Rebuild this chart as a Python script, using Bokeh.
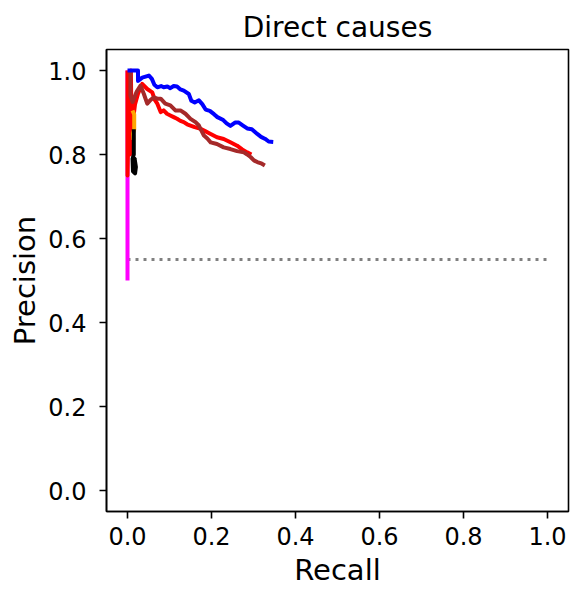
from bokeh.plotting import figure
from bokeh.models import FixedTicker, NumeralTickFormatter, Range1d
from bokeh.embed import file_html
from bokeh.resources import INLINE

# ---- data ----
tick_values = [0.0, 0.2, 0.4, 0.6, 0.8, 1.0]

baseline_recall = [0.0, 1.0]
baseline_precision = [0.55, 0.55]

magenta_recall = [0.0, 0.0]
magenta_precision = [0.50, 1.00]

red_recall = [0.000, 0.000, 0.004, 0.006, 0.008, 0.010, 0.012, 0.013, 0.018, 0.025,
              0.035, 0.047, 0.059, 0.065, 0.071, 0.079, 0.086, 0.094, 0.102, 0.110,
              0.118, 0.126, 0.134, 0.142, 0.150, 0.160, 0.174, 0.186, 0.198, 0.213,
              0.229, 0.245, 0.261, 0.273, 0.285, 0.295]
red_precision = [1.000, 0.750, 0.960, 0.800, 1.000, 0.850, 0.920, 0.880, 0.920, 0.945,
                 0.968, 0.956, 0.948, 0.930, 0.921, 0.901, 0.905, 0.897, 0.893, 0.889,
                 0.885, 0.880, 0.877, 0.872, 0.869, 0.865, 0.861, 0.855, 0.849, 0.841,
                 0.837, 0.829, 0.821, 0.812, 0.805, 0.800]

brown_recall = [0.007, 0.007, 0.012, 0.022, 0.031, 0.039, 0.047, 0.055, 0.063, 0.071,
                0.079, 0.090, 0.102, 0.114, 0.126, 0.138, 0.150, 0.162, 0.170, 0.182,
                0.190, 0.198, 0.213, 0.229, 0.245, 0.261, 0.277, 0.285, 0.293, 0.301,
                0.309, 0.320, 0.327]
brown_precision = [1.000, 0.940, 0.925, 0.950, 0.964, 0.944, 0.921, 0.930, 0.936, 0.933,
                   0.933, 0.921, 0.917, 0.905, 0.905, 0.897, 0.885, 0.877, 0.869, 0.845,
                   0.838, 0.829, 0.825, 0.817, 0.813, 0.808, 0.805, 0.800, 0.794, 0.786,
                   0.782, 0.778, 0.774]

orange_recall = [0.012, 0.016, 0.016, 0.013, 0.014]
orange_precision = [0.905, 0.895, 0.860, 0.850, 0.835]

black_recall = [0.015, 0.015, 0.012, 0.013, 0.018, 0.020, 0.017, 0.019]
black_precision = [0.860, 0.800, 0.790, 0.760, 0.755, 0.770, 0.790, 0.775]

blue_recall = [0.000, 0.025, 0.025, 0.035, 0.051, 0.058, 0.064, 0.071, 0.080, 0.086,
               0.095, 0.102, 0.110, 0.118, 0.126, 0.134, 0.146, 0.152, 0.160, 0.170,
               0.178, 0.186, 0.196, 0.206, 0.214, 0.228, 0.236, 0.245, 0.256, 0.265,
               0.275, 0.285, 0.296, 0.309, 0.318, 0.328, 0.336, 0.347]
blue_precision = [1.000, 1.000, 0.975, 0.983, 0.988, 0.980, 0.966, 0.960, 0.963, 0.960,
                  0.962, 0.958, 0.963, 0.962, 0.955, 0.952, 0.944, 0.928, 0.924, 0.929,
                  0.920, 0.907, 0.904, 0.896, 0.889, 0.882, 0.874, 0.868, 0.876, 0.876,
                  0.869, 0.862, 0.860, 0.849, 0.842, 0.837, 0.831, 0.830]

FONT = "DejaVu Sans"

p = figure(
    frame_width=462, frame_height=462,
    min_border_left=106, min_border_right=16, min_border_top=49, min_border_bottom=88,
    x_range=Range1d(-0.05, 1.05), y_range=Range1d(-0.05, 1.05),
    output_backend="svg", toolbar_location=None,
    title="Direct causes",
)
p.background_fill_color = "white"
p.border_fill_color = "white"
p.xgrid.visible = False
p.ygrid.visible = False
p.outline_line_color = "black"
p.outline_line_width = 1.6
p.outline_line_alpha = 1.0

p.title.align = "center"
p.title.text_font = FONT
p.title.text_font_size = "28px"
p.title.text_font_style = "normal"
p.title.text_color = "black"
p.title.standoff = 11

for ax, lab in ((p.xaxis[0], "Recall"), (p.yaxis[0], "Precision")):
    ax.ticker = FixedTicker(ticks=tick_values)
    ax.formatter = NumeralTickFormatter(format="0.0")
    ax.axis_label = lab
    ax.axis_label_text_font = FONT
    ax.axis_label_text_font_size = "29px"
    ax.axis_label_text_font_style = "normal"
    ax.axis_label_text_color = "black"
    ax.major_label_text_font = FONT
    ax.major_label_text_font_size = "24px"
    ax.major_label_text_color = "black"
    ax.minor_tick_line_color = None
    ax.major_tick_in = 0
    ax.major_tick_out = 7
    ax.major_tick_line_width = 1.6
    ax.major_tick_line_color = "black"
    ax.axis_line_width = 1.6
    ax.axis_line_color = "black"

p.xaxis.major_label_standoff = 8
p.xaxis.axis_label_standoff = 5
p.yaxis.major_label_standoff = 13
p.yaxis.axis_label_standoff = 3

# baseline
p.line(baseline_recall, baseline_precision, line_color="gray", line_width=3,
       line_dash="3 5", line_cap="butt")

# curves
p.line(magenta_recall, magenta_precision, line_color="magenta", line_width=4)
p.line(red_recall, red_precision, line_color="red", line_width=4, line_join="round")
p.line(brown_recall, brown_precision, line_color="brown", line_width=4, line_join="round")
p.line(orange_recall, orange_precision, line_color="orange", line_width=4, line_join="round")
p.line(black_recall, black_precision, line_color="black", line_width=4, line_join="round")
p.line(blue_recall, blue_precision, line_color="blue", line_width=4, line_join="round")

open("out.html", "w").write(file_html(p, INLINE))
